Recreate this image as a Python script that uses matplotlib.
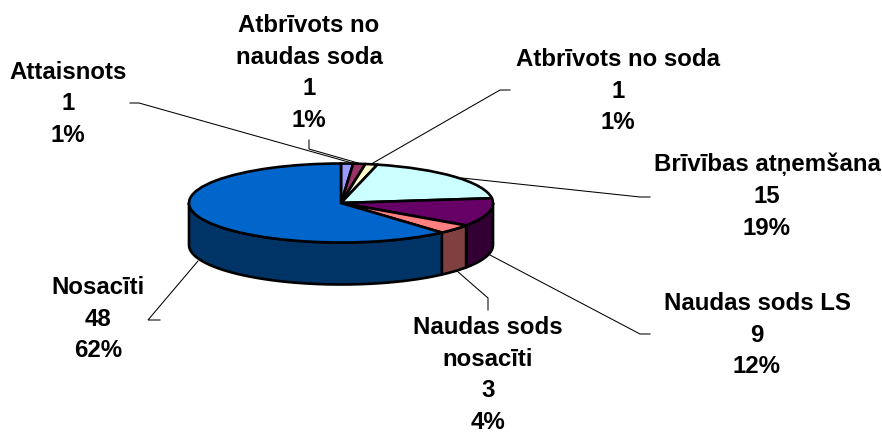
import numpy as np
import matplotlib
matplotlib.use("Agg")
import matplotlib.pyplot as plt
from matplotlib.patches import Polygon

names = ["Attaisnots", "Atbrīvots no\nnaudas soda", "Atbrīvots no soda", "Brīvības atņemšana",
         "Naudas sods LS", "Naudas sods\nnosacīti", "Nosacīti"]
values = [1, 1, 1, 15, 9, 3, 48]
percents = [1, 1, 1, 19, 12, 4, 62]
colors = ["#9999FF", "#993366", "#FFFFCC", "#CCFFFF", "#660066", "#FF8080", "#0066CC"]
side_colors = ["#4C4C80", "#4C1A33", "#808066", "#668080", "#330033", "#804040", "#003366"]

W, H = 882, 432
CX, CY, RX, RY, DEPTH = 341, 203, 152, 39.5, 42

fig = plt.figure(figsize=(W / 100, H / 100), dpi=100, facecolor="white")
ax = fig.add_axes([0, 0, 1, 1])
ax.pie(values, colors=colors, startangle=90, counterclock=False, radius=1,
       wedgeprops=dict(edgecolor="black", linewidth=1.9, joinstyle="round", zorder=5))
ax.set_aspect("auto")
ax.set_xlim(-CX / RX, (W - CX) / RX)
ax.set_ylim(-(H - CY) / RY, CY / RY)
ax.axis("off")

# Side wall of the visible (front) half of the pie
d = DEPTH / RY
edges = np.cumsum([0] + values) / sum(values) * 2 * np.pi
for i in range(len(values)):
    a0, a1 = max(edges[i], np.pi / 2), min(edges[i + 1], 3 * np.pi / 2)
    if a1 <= a0:
        continue
    t = np.linspace(a0, a1, 80)
    x, y = np.sin(t), np.cos(t)
    pts = np.r_[np.c_[x, y], np.c_[x, y - d][::-1]]
    ax.add_patch(Polygon(pts, closed=True, facecolor=side_colors[i], edgecolor="black",
                         linewidth=1.9, joinstyle="round", zorder=2))

# Overlay in pixel coordinates for labels and leader lines
ov = fig.add_axes([0, 0, 1, 1], facecolor="none")
ov.set_xlim(0, W)
ov.set_ylim(H, 0)
ov.axis("off")

label_pos = [(68, 104), (309, 73), (618, 91), (767, 196), (757, 335), (488, 375), (98, 319)]
leaders = [
    [(130, 103), (139, 103), (352, 163)],
    [(309, 140), (309, 149), (358, 163)],
    [(510, 90), (500, 90), (373, 163)],
    [(650, 197), (640, 197), (462, 178)],
    [(650, 334), (640, 334), (490, 255)],
    [(488, 310), (488, 298), (457, 271)],
    [(160, 320), (148, 320), (198, 261)],
]
for name, v, p, (lx, ly), line in zip(names, values, percents, label_pos, leaders):
    ov.text(lx, ly, f"{name}\n{v}\n{p}%", ha="center", va="center", family="Liberation Sans",
            fontweight="bold", fontsize=17.3, linespacing=1.49, color="black")
    xs, ys = zip(*line)
    ov.plot(xs, ys, color="black", lw=0.75, solid_joinstyle="miter")

fig.savefig("out.png", dpi=100, facecolor="white")
